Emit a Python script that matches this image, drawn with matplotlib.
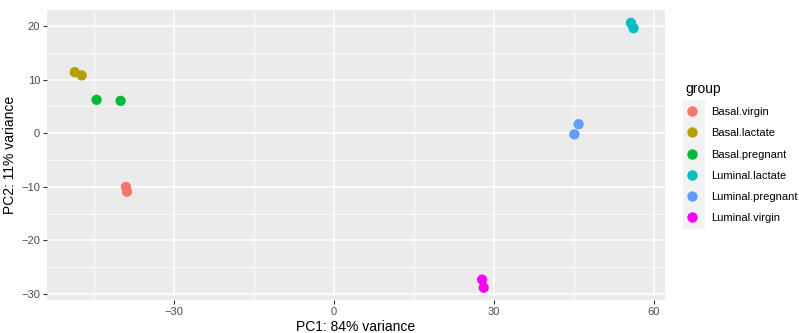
import matplotlib
matplotlib.use("Agg")
import matplotlib.pyplot as plt
from matplotlib.lines import Line2D
from matplotlib.patches import Rectangle
from matplotlib.ticker import MultipleLocator

groups = ["Basal.virgin", "Basal.lactate", "Basal.pregnant",
          "Luminal.lactate", "Luminal.pregnant", "Luminal.virgin"]
colors = ["#F8766D", "#B79F00", "#00BA38", "#00BFC4", "#619CFF", "#FF00EE"]
pc1 = {
    "Basal.virgin": [-39.0, -38.8],
    "Basal.lactate": [-48.6, -47.3],
    "Basal.pregnant": [-44.5, -40.0],
    "Luminal.lactate": [55.7, 56.2],
    "Luminal.pregnant": [45.1, 45.9],
    "Luminal.virgin": [27.8, 28.1],
}
pc2 = {
    "Basal.virgin": [-10.0, -10.9],
    "Basal.lactate": [11.4, 10.8],
    "Basal.pregnant": [6.25, 6.05],
    "Luminal.lactate": [20.6, 19.6],
    "Luminal.pregnant": [-0.2, 1.7],
    "Luminal.virgin": [-27.3, -28.8],
}
xticks = [-30, 0, 30, 60]
yticks = [-30, -20, -10, 0, 10, 20]

plt.rcParams['font.family'] = ['Liberation Sans', 'DejaVu Sans']
W, H = 799, 333
fig = plt.figure(figsize=(W/100, H/100), dpi=100)
ax = fig.add_axes([47/W, 1 - 300/H, (665-47)/W, (300-10)/H])
ax.set_facecolor("#EBEBEB")
for s in ax.spines.values():
    s.set_visible(False)

ax.xaxis.set_major_locator(MultipleLocator(30))
ax.xaxis.set_minor_locator(MultipleLocator(15))
ax.yaxis.set_major_locator(MultipleLocator(10))
ax.yaxis.set_minor_locator(MultipleLocator(5))
ax.grid(which="major", color="white", linewidth=1.1)
ax.grid(which="minor", color="white", linewidth=0.55)
ax.set_axisbelow(True)

for g, c in zip(groups, colors):
    ax.scatter(pc1[g], pc2[g], s=55, color=c, edgecolors="none", zorder=3)

ax.set_xlim(-53.8, 62.1)
ax.set_ylim(-31.1, 23.0)
ax.set_xticks(xticks)
ax.set_yticks(yticks)
ax.tick_params(which="major", length=3, color="#333333", labelsize=8, labelcolor="#4D4D4D", pad=2)
ax.tick_params(which="minor", length=0)
ax.set_xlabel("PC1: 84% variance", fontsize=10, labelpad=2)
ax.set_ylabel("PC2: 11% variance", fontsize=10, labelpad=3)

# legend key background
fig.patches.append(Rectangle((683/W, 1 - 229/H), 22/W, 129/H,
                             transform=fig.transFigure, facecolor="#F2F2F2",
                             edgecolor="none", zorder=0))

handles = [Line2D([0], [0], marker="o", linestyle="none", markersize=7.5,
                  markerfacecolor=c, markeredgecolor="none") for c in colors]
leg = fig.legend(handles, groups, title="group", loc="upper left",
                 bbox_to_anchor=(676/W, 1 - 73/H), frameon=False,
                 fontsize=8, title_fontsize=10, handlelength=1.2,
                 handletextpad=1.2, labelspacing=1.01, borderpad=0.3)
leg._legend_box.align = "left"
fig.savefig("out.png", dpi=100)
